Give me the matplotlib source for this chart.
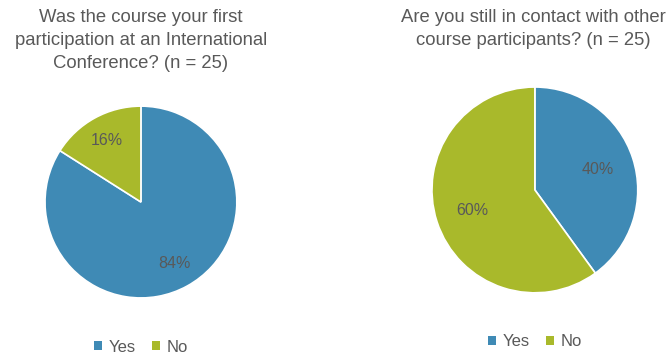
import matplotlib.pyplot as plt
from matplotlib.patches import Patch

plt.rcParams['font.family'] = ['Liberation Sans', 'DejaVu Sans']

labels = ['Yes', 'No']
first_conf = [84, 16]
still_contact = [40, 60]
titles = ['Was the course your first\nparticipation at an International\nConference? (n = 25)',
          'Are you still in contact with other\ncourse participants? (n = 25)']

colors = ['#3F8AB5', '#A9B92B']
grey = '#595959'

fig = plt.figure(figsize=(6.66, 3.56), dpi=100)

def draw_pie(rect, values, pctdist):
    ax = fig.add_axes(rect)
    ax.pie(values, colors=colors, startangle=90, counterclock=False,
           autopct='%d%%', pctdistance=pctdist,
           wedgeprops=dict(edgecolor='white', linewidth=1.2),
           textprops=dict(color=grey, fontsize=11.5))
    ax.set_xlim(-1, 1)
    ax.set_ylim(-1, 1)
    ax.set_aspect('equal')
    return ax

draw_pie([0.0676, 0.163, 0.288, 0.539], first_conf, 0.73)
draw_pie([0.6486, 0.177, 0.309, 0.579], still_contact, 0.64)

fig.text(141/666, 1 - 9/356, titles[0], ha='center', va='top', fontsize=13.3,
         color=grey, linespacing=1.45)
fig.text(533/666, 1 - 9/356, titles[1], ha='center', va='top', fontsize=13.3,
         color=grey, linespacing=1.45)

handles = [Patch(facecolor=c, edgecolor='none') for c in colors]
for cx, cy in [(141, 347), (535, 342)]:
    fig.legend(handles, labels, loc='center', bbox_to_anchor=(cx/666, 1 - cy/356), ncol=2,
               frameon=False, fontsize=12, labelcolor=grey, handlelength=0.45,
               handleheight=0.45, handletextpad=0.4, columnspacing=1.0)

fig.savefig('out.png', dpi=100, facecolor='white')
